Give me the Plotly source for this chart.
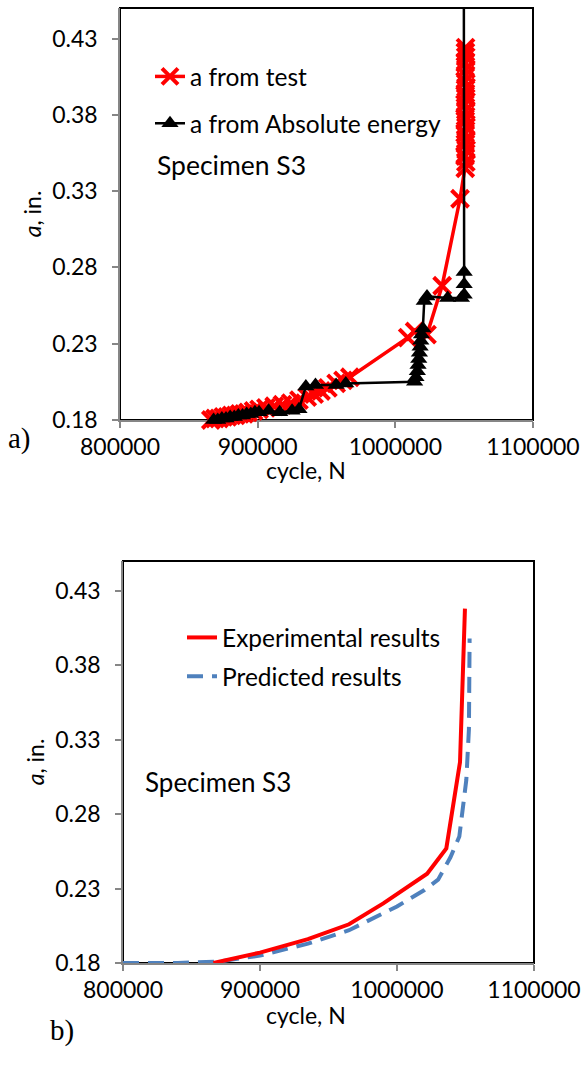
import plotly.graph_objects as go

# ---------------- data: panel a ----------------
test_N = [866000, 869000, 872000, 875000, 878000, 881000, 884000, 887000, 890000, 893000,
          897000, 901000, 906000, 912000, 918000, 924000, 930000, 936000, 941000, 946000,
          951000, 957000, 962000, 967000, 1009000, 1014000, 1023000, 1034000, 1047000,
          1050800, 1051200, 1050600, 1051400, 1050900, 1051100, 1050700, 1051300, 1050800,
          1051000, 1051200, 1050600, 1051100, 1050900, 1051300, 1050700, 1051000, 1051200,
          1050800, 1051100, 1050900, 1051000]
test_a = [0.180, 0.181, 0.181, 0.182, 0.182, 0.183, 0.183, 0.184, 0.184, 0.185,
          0.186, 0.187, 0.188, 0.189, 0.190, 0.191, 0.193, 0.195, 0.197, 0.199,
          0.201, 0.204, 0.206, 0.208, 0.234, 0.238, 0.236, 0.268, 0.325,
          0.345, 0.349, 0.353, 0.357, 0.361, 0.364, 0.368, 0.372, 0.376,
          0.379, 0.383, 0.387, 0.391, 0.394, 0.398, 0.402, 0.406, 0.410,
          0.414, 0.418, 0.421, 0.424]

abs_N = [868000, 871000, 874000, 877000, 880000, 883000, 886000, 889000, 892000, 895000,
         898000, 901000, 908000, 916000, 925000, 930000, 935000, 942000, 957000, 964000,
         1014000, 1015000, 1016000, 1016500, 1017000, 1017500, 1018000, 1018500, 1019000,
         1020000, 1021000, 1023000, 1038000, 1048000, 1050000, 1050000, 1050000, 1049600]
abs_a = [0.180, 0.180, 0.181, 0.181, 0.182, 0.182, 0.183, 0.183, 0.184, 0.184,
         0.185, 0.185, 0.186, 0.185, 0.186, 0.187, 0.202, 0.203, 0.203, 0.204,
         0.205, 0.208, 0.212, 0.216, 0.220, 0.224, 0.228, 0.232, 0.236,
         0.240, 0.258, 0.261, 0.260, 0.260, 0.262, 0.269, 0.277, 0.600]

# ---------------- data: panel b ----------------
exp_N = [866000, 880000, 900000, 935000, 965000, 990000, 1013000, 1022000, 1036000, 1046000, 1049600]
exp_a = [0.180, 0.183, 0.187, 0.196, 0.206, 0.220, 0.234, 0.240, 0.257, 0.315, 0.418]

pred_N = [800000, 840000, 870000, 900000, 935000, 965000, 1000000, 1020000, 1030000,
          1039000, 1045500, 1050600, 1052500, 1053000]
pred_a = [0.180, 0.180, 0.181, 0.185, 0.193, 0.202, 0.218, 0.229, 0.236,
          0.251, 0.265, 0.303, 0.337, 0.398]

y_ticks = [0.18, 0.23, 0.28, 0.33, 0.38, 0.43]
x_ticks = [800000, 900000, 1000000, 1100000]

W, H = 584, 1065
FONT = "Lato"
FS = 23
LFS = 24.5

def px_x(p):
    return p / W

def px_y(p):
    return 1 - p / H

fig = go.Figure()

fig.add_trace(go.Scatter(
    x=test_N, y=test_a, name="a from test", mode="lines+markers",
    line=dict(color="#FF0000", width=3.5),
    marker=dict(symbol="x-thin", size=17, line=dict(color="#FF0000", width=4)),
    xaxis="x", yaxis="y", legend="legend", legendgroup="g1", cliponaxis=False))
fig.add_trace(go.Scatter(
    x=abs_N, y=abs_a, name="a from Absolute energy", mode="lines+markers",
    line=dict(color="#000000", width=2.5),
    marker=dict(symbol="triangle-up", size=15, color="#000000"),
    xaxis="x", yaxis="y", legend="legend", legendgroup="g2", cliponaxis=False))

fig.add_trace(go.Scatter(
    x=pred_N, y=pred_a, name="Predicted results", mode="lines",
    line=dict(color="#4F81BD", width=4, dash="16px,9px"),
    xaxis="x2", yaxis="y2", legend="legend2", legendgroup="g4", legendrank=2))
fig.add_trace(go.Scatter(
    x=exp_N, y=exp_a, name="Experimental results", mode="lines",
    line=dict(color="#FF0000", width=4),
    xaxis="x2", yaxis="y2", legend="legend2", legendgroup="g3", legendrank=1))

axis_common = dict(
    showgrid=False, zeroline=False, showline=True, linecolor="#868686", linewidth=1.5,
    ticks="outside", ticklen=6, tickwidth=1.5, tickcolor="#868686",
    tickfont=dict(family=FONT, size=FS, color="#000"),
    layer="below traces", automargin=False,
)

top_dom_x = [px_x(120), px_x(533)]
top_dom_y = [px_y(420), px_y(8)]
bot_dom_x = [px_x(123), px_x(534)]
bot_dom_y = [px_y(963), px_y(561)]

fig.update_layout(
    width=W, height=H, margin=dict(l=0, r=0, t=0, b=0, autoexpand=False),
    paper_bgcolor="white", plot_bgcolor="white",
    font=dict(family=FONT, size=FS, color="#000"),
    xaxis=dict(axis_common, domain=top_dom_x, range=[800000, 1100000], tickvals=x_ticks,
               tickformat="d", anchor="y"),
    yaxis=dict(axis_common, domain=top_dom_y, range=[0.18, 0.45], tickvals=y_ticks,
               tickformat=".2f", anchor="x", ticklabelstandoff=10,
               title=dict(text="<i>a</i>, in.", font=dict(family=FONT, size=FS), standoff=4)),
    xaxis2=dict(axis_common, domain=bot_dom_x, range=[800000, 1100000], tickvals=x_ticks,
                tickformat="d", anchor="y2"),
    yaxis2=dict(axis_common, domain=bot_dom_y, range=[0.18, 0.45], tickvals=y_ticks,
                tickformat=".2f", anchor="x2", ticklabelstandoff=10,
                title=dict(text="<i>a</i>, in.", font=dict(family=FONT, size=FS), standoff=4)),
    legend=dict(x=px_x(150), y=px_y(54), xanchor="left", yanchor="top",
                bgcolor="rgba(0,0,0,0)", font=dict(family=FONT, size=LFS),
                traceorder="grouped", tracegroupgap=12, borderwidth=0),
    legend2=dict(x=px_x(182), y=px_y(615), xanchor="left", yanchor="top",
                 bgcolor="rgba(0,0,0,0)", font=dict(family=FONT, size=LFS),
                 traceorder="grouped", tracegroupgap=4, borderwidth=0),
    showlegend=True,
)

# black plot-area frame (top/right visible; left/bottom covered by grey axes)
for xr, yr in (("x domain", "y domain"), ("x2 domain", "y2 domain")):
    fig.add_shape(type="rect", xref=xr, yref=yr, x0=0, x1=1, y0=0, y1=1,
                  line=dict(color="#000000", width=2), layer="below")

def label(text, x, y, size, family=FONT, xanchor="left"):
    fig.add_annotation(text=text, xref="paper", yref="paper", x=px_x(x), y=px_y(y),
                       xanchor=xanchor, yanchor="middle", showarrow=False,
                       font=dict(family=family, size=size, color="#000"))

# x-axis titles
label("cycle, N", 306, 470, FS, xanchor="center")
label("cycle, N", 306, 1015, FS, xanchor="center")
# in-plot text
label("Specimen S3", 155, 165, 26.5)
label("Specimen S3", 143, 782, 26)
# panel letters
label("a)", 6, 438, 29, family="Liberation Serif")
label("b)", 48, 1030, 29, family="Liberation Serif")

fig.write_html("out.html")
